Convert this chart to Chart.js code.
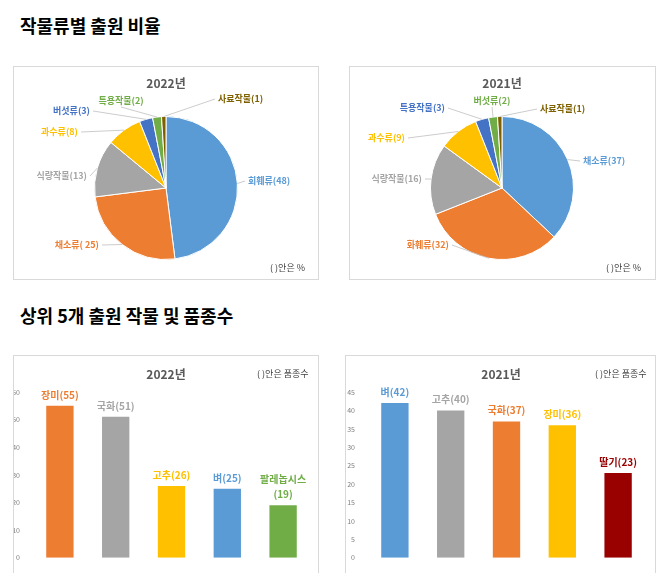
<!DOCTYPE html>
<html>
<head>
<meta charset="utf-8">
<script src="https://cdn.jsdelivr.net/npm/chart.js@4"></script>
<style>
  body { margin: 0; background: #fff; font-family: "Noto Sans CJK KR", sans-serif; }
  #page { position: relative; width: 666px; height: 573px; overflow: hidden; }
  h2 { position: absolute; left: 20px; margin: 0; font-size: 18px; font-weight: bold; color: #000; }
  .panel { position: absolute; border: 1px solid #d9d9d9; box-sizing: border-box; }
  .panel canvas { position: absolute; left: 0; top: 0; }
  .title { position: absolute; font-size: 12px; font-weight: bold; color: #595959; transform: translateX(-50%); }
  .note { position: absolute; font-size: 9px; color: #404040; }
</style>
</head>
<body>
<div id="page">
  <h2 style="top:12px">작물류별 출원 비율</h2>
  <h2 style="top:302px">상위 5개 출원 작물 및 품종수</h2>

  <div class="panel" style="left:13px;top:66px;width:306px;height:214px">
    <canvas id="pie22"></canvas>
    <div class="title" style="left:152px;top:7px">2022년</div>
    <div class="note" style="left:256px;top:194px">( )안은 %</div>
  </div>
  <div class="panel" style="left:349px;top:66px;width:307px;height:214px">
    <canvas id="pie21"></canvas>
    <div class="title" style="left:152px;top:7px">2021년</div>
    <div class="note" style="left:256px;top:194px">( )안은 %</div>
  </div>
  <div class="panel" style="left:13px;top:355px;width:306px;height:220px">
    <canvas id="bar22"></canvas>
    <div class="title" style="left:152px;top:9px">2022년</div>
    <div class="note" style="left:243px;top:11px">( )안은 품종수</div>
  </div>
  <div class="panel" style="left:345px;top:355px;width:311px;height:220px">
    <canvas id="bar21"></canvas>
    <div class="title" style="left:155px;top:9px">2021년</div>
    <div class="note" style="left:249px;top:11px">( )안은 품종수</div>
  </div>
</div>
<script>
// 작물류별 출원 비율
const pie22Labels = ["회훼류(48)", "채소류( 25)", "식량작물(13)", "과수류(8)", "버섯류(3)", "특용작물(2)", "사료작물(1)"];
const pie22Values = [48, 25, 13, 8, 3, 2, 1];
const pie21Labels = ["채소류(37)", "화훼류(32)", "식량작물(16)", "과수류(9)", "특용작물(3)", "버섯류(2)", "사료작물(1)"];
const pie21Values = [37, 32, 16, 9, 3, 2, 1];

// 상위 5개 작물
const bar22Labels = ["장미(55)", "국화(51)", "고추(26)", "벼(25)", ["팔레놉시스", "(19)"]];
const bar22Values = [55, 51, 26, 25, 19];
const bar21Labels = ["벼(42)", "고추(40)", "국화(37)", "장미(36)", "딸기(23)"];
const bar21Values = [42, 40, 37, 36, 23];

const pieColors = ["#5b9bd5", "#ed7d31", "#a5a5a5", "#ffc000", "#4472c4", "#70ad47", "#7f6000"];
const bar22Colors = ["#ed7d31", "#a5a5a5", "#ffc000", "#5b9bd5", "#70ad47"];
const bar21Colors = ["#5b9bd5", "#a5a5a5", "#ed7d31", "#ffc000", "#990000"];

// label anchors relative to pie centre: [dx, dy, align]
const pie22Anchors = [[82,-7,"left"],[-67,57,"right"],[-79,-12,"right"],[-88,-56,"right"],[-76,-77,"right"],[-45,-87,"center"],[52,-89,"left"]];
const pie21Anchors = [[81,-27,"left"],[-53,57,"right"],[-80,-9,"right"],[-97,-50,"right"],[-57,-80,"right"],[-10,-87,"center"],[38,-79,"left"]];

const FONT = "'Noto Sans CJK KR', sans-serif";

const pieLabelPlugin = {
  id: "pieLabels",
  afterDatasetsDraw(chart, args, opts) {
    const ctx = chart.ctx;
    const arcs = chart.getDatasetMeta(0).data;
    ctx.save();
    ctx.font = "bold 9px " + FONT;
    ctx.textBaseline = "middle";
    arcs.forEach((arc, i) => {
      const [dx, dy, align] = opts.anchors[i];
      const mid = (arc.startAngle + arc.endAngle) / 2;
      const ex = arc.x + Math.cos(mid) * arc.outerRadius;
      const ey = arc.y + Math.sin(mid) * arc.outerRadius;
      const tx = arc.x + dx, ty = arc.y + dy;
      ctx.strokeStyle = "#bfbfbf";
      ctx.lineWidth = 0.8;
      ctx.beginPath();
      ctx.moveTo(ex, ey);
      if (align === "center") ctx.lineTo(tx, ty + 6);
      else ctx.lineTo(tx + (align === "left" ? -3 : 3), ty);
      ctx.stroke();
      ctx.fillStyle = pieColors[i];
      ctx.textAlign = align;
      ctx.fillText(chart.data.labels[i], tx, ty);
    });
    ctx.restore();
  }
};

function drawPie(id, labels, values, anchors) {
  const cv = document.getElementById(id);
  cv.width = 304; cv.height = 212;
  new Chart(cv, {
    type: "pie",
    data: { labels, datasets: [{ data: values, backgroundColor: pieColors, borderColor: "#fff", borderWidth: 1 }] },
    options: {
      responsive: false,
      animation: false,
      layout: { padding: { top: 49, bottom: 19 } },
      plugins: { legend: { display: false }, tooltip: { enabled: false }, pieLabels: { anchors } }
    },
    plugins: [pieLabelPlugin]
  });
}

const barLabelPlugin = {
  id: "barLabels",
  afterDatasetsDraw(chart) {
    const ctx = chart.ctx;
    const bars = chart.getDatasetMeta(0).data;
    ctx.save();
    ctx.font = "bold 10px " + FONT;
    ctx.textAlign = "center";
    ctx.textBaseline = "bottom";
    bars.forEach((bar, i) => {
      const lab = chart.data.labels[i];
      const lines = Array.isArray(lab) ? lab : [lab];
      ctx.fillStyle = chart.data.datasets[0].backgroundColor[i];
      lines.forEach((ln, k) => {
        ctx.fillText(ln, bar.x, bar.y - 6 - (lines.length - 1 - k) * 15);
      });
    });
    ctx.restore();
  }
};

function drawBar(id, labels, values, colors, max, step, w, axisW, padR) {
  const cv = document.getElementById(id);
  cv.width = w; cv.height = 210;
  new Chart(cv, {
    type: "bar",
    data: { labels, datasets: [{ data: values, backgroundColor: colors, barPercentage: 0.49, categoryPercentage: 1 }] },
    options: {
      responsive: false,
      animation: false,
      layout: { padding: { top: 36, bottom: 4, right: padR, left: 0 } },
      scales: {
        x: { display: false },
        y: {
          min: 0, max,
          afterFit: (s) => { s.width = axisW; },
          ticks: { stepSize: step, color: "#7f7f7f", font: { size: 7, family: FONT }, padding: 4 },
          grid: { display: false },
          border: { display: false }
        }
      },
      plugins: { legend: { display: false }, tooltip: { enabled: false } }
    },
    plugins: [barLabelPlugin]
  });
}

drawPie("pie22", pie22Labels, pie22Values, pie22Anchors);
drawPie("pie21", pie21Labels, pie21Values, pie21Anchors);
drawBar("bar22", bar22Labels, bar22Values, bar22Colors, 60, 10, 304, 18, 7);
drawBar("bar21", bar21Labels, bar21Values, bar21Colors, 45, 5, 309, 21, 9);
</script>
</body>
</html>
